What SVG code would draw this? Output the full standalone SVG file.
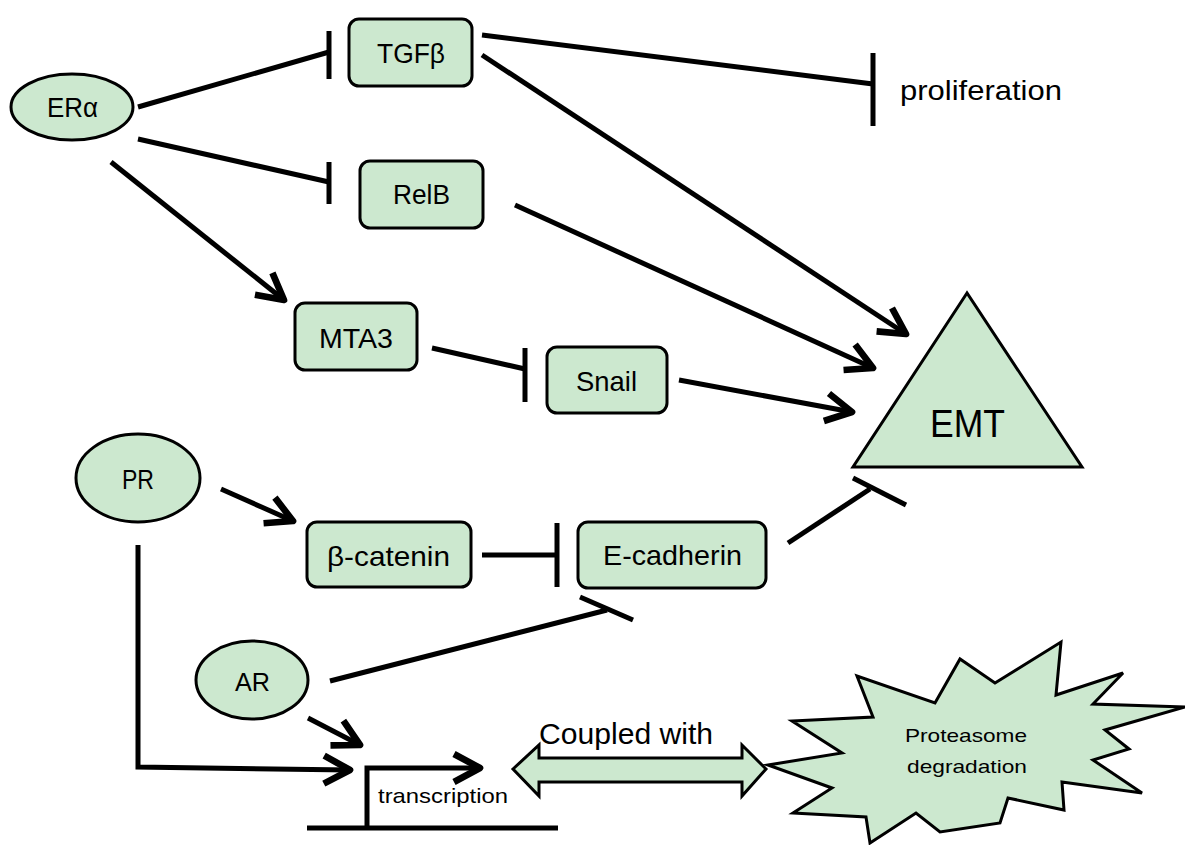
<svg xmlns="http://www.w3.org/2000/svg" width="1185" height="845" viewBox="0 0 1185 845">
<style>
.n{fill:#cce8cf;stroke:#000;stroke-width:3}
.t{font-family:"Liberation Sans",Arial,sans-serif;fill:#000;text-anchor:middle}
.c{stroke:#000;stroke-width:5;fill:none;stroke-linejoin:miter}
</style>
<defs>
<marker id="arr" markerUnits="userSpaceOnUse" markerWidth="40" markerHeight="40" viewBox="-25 -15 30 30" refX="0" refY="0" orient="auto" overflow="visible">
<path d="M-19.5 -10.5 L0 0 L-19.5 10.5" fill="none" stroke="#000" stroke-width="5" stroke-linejoin="round"/>
</marker>
</defs>
<rect width="1185" height="845" fill="#fff"/>

<g id="connectors">
<line class="c" x1="138" y1="107" x2="329" y2="52"/>
<line class="c" x1="329" y1="31" x2="329" y2="79"/>
<line class="c" x1="138" y1="139" x2="329" y2="182"/>
<line class="c" x1="329" y1="162" x2="329" y2="204"/>
<line class="c" x1="111" y1="162" x2="284" y2="300" marker-end="url(#arr)"/>
<line class="c" x1="482" y1="35" x2="873" y2="84"/>
<line class="c" x1="873" y1="53" x2="873" y2="126"/>
<line class="c" x1="482" y1="55" x2="906" y2="334" marker-end="url(#arr)"/>
<line class="c" x1="515" y1="205" x2="873" y2="368" marker-end="url(#arr)"/>
<line class="c" x1="432" y1="348" x2="525" y2="369"/>
<line class="c" x1="525" y1="348" x2="525" y2="402"/>
<line class="c" x1="679" y1="380" x2="852" y2="412" marker-end="url(#arr)"/>
<line class="c" x1="221" y1="489" x2="293" y2="521" marker-end="url(#arr)"/>
<line class="c" x1="482" y1="555" x2="557" y2="555"/>
<line class="c" x1="557" y1="523" x2="557" y2="587"/>
<line class="c" x1="788" y1="543" x2="870" y2="489"/>
<line class="c" x1="853" y1="478" x2="906" y2="505"/>
<line class="c" x1="330" y1="681" x2="607" y2="610"/>
<line class="c" x1="580" y1="597" x2="633" y2="620"/>
<line class="c" x1="308" y1="718" x2="360" y2="745" marker-end="url(#arr)"/>
<polyline class="c" points="138,545 138,767 350,770" marker-end="url(#arr)"/>
<polyline class="c" points="367,828 367,768 480,768" marker-end="url(#arr)"/>
<line class="c" x1="307" y1="828" x2="558" y2="828"/>
<polygon id="coupled-arrow" class="n" points="513,769 539,745 539,758 742,758 742,745 766,769 742,796 742,782 539,782 539,796"/>
</g>

<g id="node-era"><ellipse class="n" cx="72" cy="107" rx="61" ry="33" stroke-width="2.5"/><text class="t" x="72.5" y="117" font-size="28" textLength="51" lengthAdjust="spacingAndGlyphs">ERα</text></g>
<g id="node-tgfb"><rect class="n" x="349" y="19" width="123" height="67" rx="10"/><text class="t" x="411" y="63" font-size="28" textLength="68" lengthAdjust="spacingAndGlyphs">TGFβ</text></g>
<g id="node-relb"><rect class="n" x="360" y="161" width="123" height="67" rx="10"/><text class="t" x="421.5" y="204" font-size="28" textLength="57" lengthAdjust="spacingAndGlyphs">RelB</text></g>
<g id="node-proliferation"><text class="t" x="981" y="100" font-size="28" textLength="162" lengthAdjust="spacingAndGlyphs">proliferation</text></g>
<g id="node-mta3"><rect class="n" x="295" y="303" width="122" height="67" rx="10"/><text class="t" x="356" y="348" font-size="28" textLength="74" lengthAdjust="spacingAndGlyphs">MTA3</text></g>
<g id="node-snail"><rect class="n" x="547" y="347" width="120" height="66" rx="10"/><text class="t" x="606.5" y="391" font-size="28" textLength="61" lengthAdjust="spacingAndGlyphs">Snail</text></g>
<g id="node-emt"><polygon class="n" points="967,293 853,467 1082,467"/><text class="t" x="967.5" y="437" font-size="38" textLength="75" lengthAdjust="spacingAndGlyphs">EMT</text></g>
<g id="node-pr"><ellipse class="n" cx="138" cy="478" rx="62" ry="44" stroke-width="2.5"/><text class="t" x="138" y="489" font-size="28" textLength="32" lengthAdjust="spacingAndGlyphs">PR</text></g>
<g id="node-bcatenin"><rect class="n" x="307" y="522" width="164" height="65" rx="10"/><text class="t" x="388.5" y="566" font-size="28" textLength="123" lengthAdjust="spacingAndGlyphs">β-catenin</text></g>
<g id="node-ecadherin"><rect class="n" x="578" y="522" width="188" height="66" rx="10"/><text class="t" x="672.5" y="565" font-size="28" textLength="139" lengthAdjust="spacingAndGlyphs">E-cadherin</text></g>
<g id="node-ar"><ellipse class="n" cx="252" cy="680" rx="56" ry="39" stroke-width="2.5"/><text class="t" x="252.5" y="691" font-size="26" textLength="35" lengthAdjust="spacingAndGlyphs">AR</text></g>
<g id="node-transcription"><text class="t" x="443" y="803" font-size="21" textLength="130" lengthAdjust="spacingAndGlyphs">transcription</text></g>
<g id="label-coupled"><text class="t" x="626" y="744" font-size="29" textLength="174" lengthAdjust="spacingAndGlyphs">Coupled with</text></g>
<g id="node-proteasome">
<polygon class="n" points="768,765 842,753 792,721 873,717 857,676 935,703 960,659 995,683 1061,642 1056,695 1123,673 1093,704 1185,707 1105,730 1129,749 1093,760 1142,793 1062,782 1064,810 1008,798 1000,823 940,832 916,813 870,843 866,817 793,813 832,788"/>
<text class="t" x="966" y="742" font-size="19" textLength="122" lengthAdjust="spacingAndGlyphs">Proteasome</text>
<text class="t" x="967" y="773" font-size="19" textLength="120" lengthAdjust="spacingAndGlyphs">degradation</text>
</g>
</svg>
